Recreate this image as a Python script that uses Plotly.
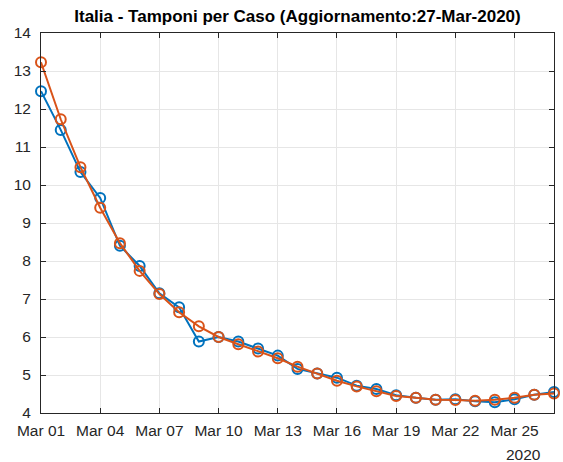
import plotly.graph_objects as go
import pandas as pd

# Dati
giorni = pd.date_range("2020-03-01", "2020-03-27", freq="D")
serie_blu = [12.47, 11.45, 10.34, 9.66, 8.40, 7.87, 7.15, 6.78, 5.88, 6.00,
             5.88, 5.70, 5.51, 5.16, 5.04, 4.93, 4.72, 4.63, 4.47, 4.40,
             4.35, 4.36, 4.31, 4.28, 4.36, 4.48, 4.55]
serie_arancio = [13.23, 11.73, 10.47, 9.40, 8.47, 7.74, 7.13, 6.65, 6.28, 6.00,
                 5.81, 5.62, 5.44, 5.22, 5.04, 4.85, 4.70, 4.57, 4.45, 4.40,
                 4.35, 4.34, 4.32, 4.35, 4.40, 4.48, 4.51]
titolo = "Italia - Tamponi per Caso (Aggiornamento:27-Mar-2020)"

font_family = "Liberation Sans, Arial, sans-serif"

fig = go.Figure()
for y, col in [(serie_blu, "#0072BD"), (serie_arancio, "#D95319")]:
    fig.add_trace(go.Scatter(
        x=giorni, y=y, mode="lines+markers", cliponaxis=False,
        line=dict(color=col, width=2),
        marker=dict(symbol="circle-open", size=10, color=col, line=dict(width=2)),
        showlegend=False,
    ))

fig.update_layout(
    width=563, height=462,
    margin=dict(l=41, r=9, t=33, b=49),
    paper_bgcolor="white", plot_bgcolor="white",
    font=dict(family=font_family, size=15.5, color="#262626"),
    title=dict(text="<b>" + titolo + "</b>", x=(41 + 554) / 2 / 563, xanchor="center",
               y=1 - 16 / 462, yref="container", yanchor="middle",
               font=dict(size=17, color="black")),
)
fig.update_xaxes(
    range=[giorni[0], giorni[-1]], tickformat="%b %d", dtick=3 * 86400000,
    tick0=giorni[0], showgrid=True, gridcolor="#e6e6e6", gridwidth=1,
    showline=True, linecolor="#262626", linewidth=1, mirror="ticks",
    ticks="inside", ticklen=5, tickcolor="#262626", zeroline=False,
    ticklabelstandoff=3,
)
fig.update_yaxes(
    range=[4, 14], dtick=1, showgrid=True, gridcolor="#e6e6e6", gridwidth=1,
    showline=True, linecolor="#262626", linewidth=1, mirror="ticks",
    ticks="inside", ticklen=5, tickcolor="#262626", zeroline=False,
    ticklabelstandoff=6,
)
fig.add_annotation(text="2020", x=(523 - 41) / 513, xref="paper", y=0, yref="paper",
                   yshift=-41, showarrow=False, yanchor="middle", xanchor="center",
                   font=dict(size=15.5, color="#262626"))

# niente margine del body, così la figura occupa esattamente la finestra
fig.write_html("out.html", config={"displayModeBar": False},
               post_script="document.body.style.margin='0px';")
